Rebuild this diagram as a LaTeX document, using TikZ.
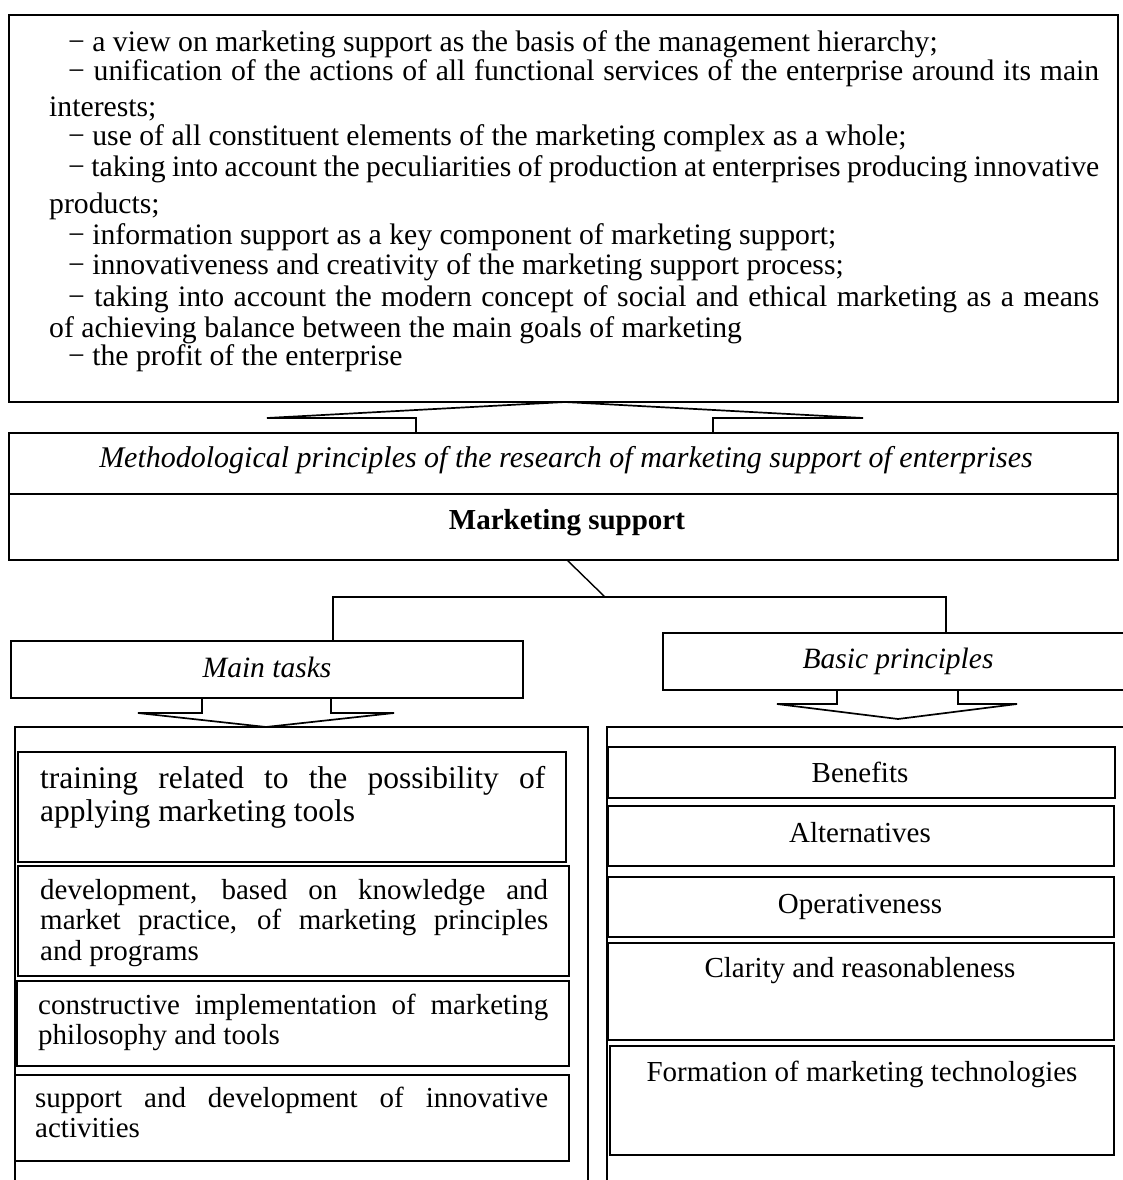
\documentclass[tikz,border=0pt]{standalone}
\usepackage{fontspec}
\setmainfont{Liberation Serif}
\usetikzlibrary{fit}
\tikzset{
  boxline/.style={
    draw,
    line width=1.5pt,
    inner sep=0pt,
    outer sep=0pt
  },
  wire/.style={
    line width=1.4pt
  },
  blockarrow/.style={
    line width=1.7pt,
    line join=miter
  },
  listtext/.style={
    anchor=base west,
    inner sep=0pt,
    font=\fontsize{29.7}{31}\selectfont
  },
  celltext/.style={
    anchor=base,
    inner sep=0pt,
    font=\fontsize{29}{30}\selectfont
  },
  tasktext/.style={
    anchor=base west,
    inner sep=0pt,
    font=\fontsize{29}{30}\selectfont
  }
}
\newcommand{\jline}[2]{\makebox[#1pt][s]{#2}}

\begin{document}
\begin{tikzpicture}[x=1pt,y=-1pt]
  \useasboundingbox (0,0) rectangle (1123,1180);

  % aims of marketing support
  \node[boxline, fit={(9,15) (1118,402)}] (aims) {};
  \node[listtext] (a1) at (68,52) {− a view on marketing support as the basis of the management hierarchy;};
  \node[listtext] (a2) at (68,81) {\jline{1031}{− unification of the actions of all functional services of the enterprise around its main}};
  \node[listtext] (a3) at (49,117) {interests;};
  \node[listtext] (a4) at (68,146) {− use of all constituent elements of the marketing complex as a whole;};
  \node[listtext] (a5) at (68,176) {\jline{1031}{− taking into account the peculiarities of production at enterprises producing innovative}};
  \node[listtext] (a6) at (49,213) {products;};
  \node[listtext] (a7) at (68,244) {− information support as a key component of marketing support;};
  \node[listtext] (a8) at (68,274) {− innovativeness and creativity of the marketing support process;};
  \node[listtext] (a9) at (68,306) {\jline{1031}{− taking into account the modern concept of social and ethical marketing as a means}};
  \node[listtext] (a10) at (49,337) {of achieving balance between the main goals of marketing};
  \node[listtext] (a11) at (68,365) {− the profit of the enterprise};

  % wide arrow up
  \draw[blockarrow] (416,433) -- (416,418) -- (267,418) -- (565,402)
    -- (863,418) -- (713,418) -- (713,433);

  \node[boxline, fit={(9,433) (1118,494)}] (method) {};
  \node[celltext, font=\fontsize{30}{31}\selectfont\itshape] (methodtxt) at (566,467)
    {Methodological principles of the research of marketing support of enterprises};

  \node[boxline, fit={(9,494) (1118,560)}] (support) {};
  \node[celltext, font=\fontsize{29}{30}\selectfont\bfseries] (supporttxt) at (567,529) {Marketing support};

  % fork to the two branches
  \coordinate (fork) at (605,597);
  \coordinate (forkL) at (333,597);
  \coordinate (forkR) at (946,597);

  \node[boxline, fit={(11,641) (523,698)}] (tasks) {};
  \node[celltext, font=\fontsize{29.5}{30}\selectfont\itshape] (taskstxt) at (267,677) {Main tasks};

  \node[boxline, fit={(663,633) (1140,690)}] (basics) {};
  \node[celltext, font=\fontsize{29.5}{30}\selectfont\itshape] (basicstxt) at (898,668) {Basic principles};

  \draw[wire] (support.south -| 567,0) -- (fork);
  \draw[wire] (forkL |- tasks.north) -- (forkL) -- (forkR) -- (forkR |- basics.north);

  % wide arrows down
  \draw[blockarrow] (202,698) -- (202,713) -- (138,713) -- (266,727)
    -- (394,713) -- (331,713) -- (331,698);
  \draw[blockarrow] (837,690) -- (837,704) -- (777,704) -- (898,719)
    -- (1017,704) -- (958,704) -- (958,690);

  % main tasks column
  \node[boxline, fit={(15,727) (588,1200)}] (taskcol) {};
  \node[boxline, fit={(18,752) (566,862)}] (t1) {};
  \node[tasktext, font=\fontsize{31.5}{33}\selectfont] (t1a) at (40,788) {\jline{505}{training related to the possibility of}};
  \node[tasktext, font=\fontsize{31.5}{33}\selectfont] (t1b) at (40,821) {applying marketing tools};

  \node[boxline, fit={(18,866) (569,976)}] (t2) {};
  \node[tasktext] (t2a) at (40,899) {\jline{508}{development, based on knowledge and}};
  \node[tasktext] (t2b) at (40,929) {\jline{508}{market practice, of marketing principles}};
  \node[tasktext] (t2c) at (40,960) {and programs};

  \node[boxline, fit={(17,981) (569,1066)}] (t3) {};
  \node[tasktext] (t3a) at (38,1014) {\jline{510}{constructive implementation of marketing}};
  \node[tasktext] (t3b) at (38,1044) {philosophy and tools};

  \node[boxline, fit={(15,1075) (569,1161)}] (t4) {};
  \node[tasktext] (t4a) at (35,1107) {\jline{513}{support and development of innovative}};
  \node[tasktext] (t4b) at (35,1137) {activities};

  % basic principles column
  \node[boxline, fit={(607,727) (1140,1200)}] (basiccol) {};
  \node[boxline, fit={(608,747) (1115,798)}] (b1) {};
  \node[celltext] (b1txt) at (860,782) {Benefits};
  \node[boxline, fit={(608,806) (1114,866)}] (b2) {};
  \node[celltext] (b2txt) at (860,842) {Alternatives};
  \node[boxline, fit={(608,877) (1114,937)}] (b3) {};
  \node[celltext] (b3txt) at (860,913) {Operativeness};
  \node[boxline, fit={(608,943) (1114,1040)}] (b4) {};
  \node[celltext] (b4txt) at (860,977) {Clarity and reasonableness};
  \node[boxline, fit={(610,1046) (1114,1155)}] (b5) {};
  \node[celltext] (b5txt) at (862,1081) {Formation of marketing technologies};
\end{tikzpicture}
\end{document}
